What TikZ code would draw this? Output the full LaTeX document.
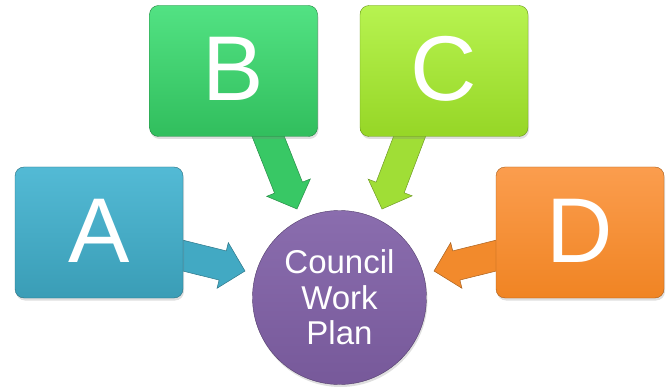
\documentclass[tikz,border=0pt]{standalone}
\usepackage{fontspec}
\setmainfont{Liberation Sans}
\usetikzlibrary{positioning,calc,shadows,backgrounds}

\definecolor{atop}{HTML}{53BAD5}
\definecolor{abot}{HTML}{3A9DB6}
\definecolor{btop}{HTML}{52E283}
\definecolor{bbot}{HTML}{31BE5D}
\definecolor{ctop}{HTML}{B7F350}
\definecolor{cbot}{HTML}{96D626}
\definecolor{dtop}{HTML}{FB9D4E}
\definecolor{dbot}{HTML}{F08423}
\definecolor{ptop}{HTML}{8A6DAE}
\definecolor{pbot}{HTML}{77599A}
\definecolor{aarrow}{HTML}{42A9C3}
\definecolor{barrow}{HTML}{38C865}
\definecolor{carrow}{HTML}{A0DE36}
\definecolor{darrow}{HTML}{F28A2C}

\tikzset{
  letterbox/.style 2 args={rectangle, rounded corners=9pt, minimum width=168pt,
    minimum height=131pt, top color=#1, bottom color=#2, draw=#2!70!black,
    line width=0.4pt, text=white, font=\fontsize{92}{92}\selectfont,
    text height=67pt, text depth=8pt,
    drop shadow={shadow xshift=1pt, shadow yshift=-2.5pt, opacity=0.25}},
  planbox/.style={circle, minimum size=174pt, top color=ptop, bottom color=pbot,
    draw=pbot!70!black, line width=0.4pt, text=white, align=center,
    font=\fontsize{33}{35.5}\selectfont,
    drop shadow={shadow xshift=1pt, shadow yshift=-2.5pt, opacity=0.25}}
}

% block arrow from #1 to the tip #2, filled with #3
\newcommand{\bigarrow}[3]{%
  \coordinate (#2-base) at ($(#2)!23pt!(#1)$);
  \filldraw[fill=#3, draw=#3!70!black, line width=0.5pt, opacity=1]
    ($(#1)!15pt!90:(#2)$) -- ($(#2-base)!15pt!90:(#2)$)
    -- ($(#2-base)!23.5pt!90:(#2)$) -- (#2)
    -- ($(#2-base)!23.5pt!-90:(#2)$) -- ($(#2-base)!15pt!-90:(#2)$)
    -- ($(#1)!15pt!-90:(#2)$) -- cycle;
}

\begin{document}
\begin{tikzpicture}[x=1pt,y=1pt]
    \useasboundingbox (0,0) rectangle (670,389);

    \node[letterbox={atop}{abot}] (A) at (99,156.5) {A};
    \node[letterbox={btop}{bbot}] (B) at (233.5,318) {B};
    \node[letterbox={ctop}{cbot}] (C) at (444,318) {C};
    \node[letterbox={dtop}{dbot}] (D) at (580,156.5) {D};
    \node[planbox] (plan) at (339.5,91.5) {Council\\Work\\Plan};

    \coordinate (startA) at ($(A.east)+(-25,-17)$);
    \coordinate (startB) at ($(B.south)+(30,12)$);
    \coordinate (startC) at ($(C.south)+(-30,12)$);
    \coordinate (startD) at ($(D.west)+(25,-17)$);
    \coordinate (tipA) at ($(plan.center)+(-94.5,26.5)$);
    \coordinate (tipB) at ($(plan.center)+(-42.5,88.5)$);
    \coordinate (tipC) at ($(plan.center)+(42.5,88.5)$);
    \coordinate (tipD) at ($(plan.center)+(94.5,26.5)$);

    \begin{scope}[on background layer]
        \bigarrow{startA}{tipA}{aarrow}
        \bigarrow{startB}{tipB}{barrow}
        \bigarrow{startC}{tipC}{carrow}
        \bigarrow{startD}{tipD}{darrow}
    \end{scope}
\end{tikzpicture}
\end{document}
